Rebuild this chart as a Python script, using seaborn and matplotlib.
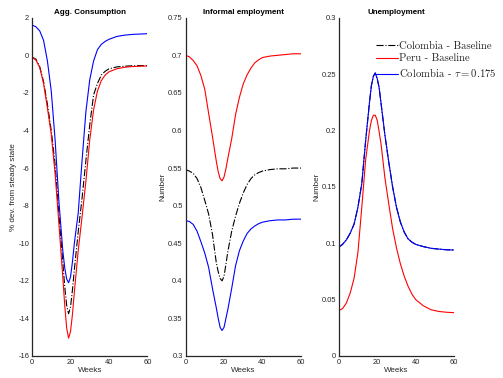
import matplotlib
matplotlib.use("Agg")
import matplotlib.pyplot as plt
import seaborn as sns
import numpy as np

# ---------------- data ----------------
weeks = [0, 2, 4, 6, 8, 10, 12, 14, 16, 17, 18, 19, 20, 21, 22, 24, 26, 28, 30,
         32, 34, 36, 38, 40, 44, 48, 52, 56, 60]

# Agg. Consumption (% dev. from steady state)
cons_col_base = [-0.10, -0.20, -0.60, -1.40, -2.60, -4.00, -5.80, -8.50, -11.0, -12.3, -13.3, -13.75, -13.4,
                 -12.5, -11.4, -9.4, -7.6, -5.6, -3.7, -2.1, -1.5, -1.05, -0.85, -0.72, -0.62, -0.58,
                 -0.56, -0.55, -0.55]
cons_peru_base = [-0.10, -0.25, -0.65, -1.50, -2.80, -4.20, -6.30, -9.00, -11.8, -13.3, -14.5, -15.05, -14.7,
                  -13.8, -12.6, -10.4, -8.6, -6.7, -4.5, -2.9, -1.9, -1.35, -1.05, -0.88, -0.72, -0.64,
                  -0.60, -0.58, -0.57]
cons_col_tau = [1.61, 1.52, 1.30, 0.80, -0.30, -1.90, -4.50, -7.80, -10.4, -11.3, -11.9, -12.1, -11.8,
                -11.0, -10.0, -8.4, -5.6, -3.0, -1.3, -0.3, 0.30, 0.58, 0.74, 0.85, 1.00, 1.07,
                1.11, 1.13, 1.15]

# Informal employment (Number)
inf_col_base = [0.548, 0.546, 0.543, 0.536, 0.524, 0.507, 0.489, 0.462, 0.424, 0.412, 0.403, 0.400, 0.406,
                0.422, 0.439, 0.466, 0.486, 0.503, 0.517, 0.528, 0.536, 0.541, 0.544, 0.546, 0.548, 0.549,
                0.549, 0.550, 0.550]
inf_peru_base = [0.700, 0.698, 0.693, 0.686, 0.673, 0.655, 0.623, 0.592, 0.559, 0.545, 0.536, 0.533, 0.538,
                 0.549, 0.563, 0.589, 0.621, 0.644, 0.662, 0.674, 0.683, 0.690, 0.694, 0.697, 0.699, 0.700,
                 0.701, 0.702, 0.702]
inf_col_tau = [0.480, 0.479, 0.475, 0.466, 0.452, 0.437, 0.418, 0.390, 0.364, 0.350, 0.338, 0.334, 0.338,
               0.350, 0.362, 0.390, 0.420, 0.440, 0.453, 0.463, 0.469, 0.473, 0.476, 0.478, 0.480, 0.481,
               0.481, 0.482, 0.482]

# Unemployment (Number)
unemp_col_base = [0.0964, 0.099, 0.103, 0.109, 0.117, 0.132, 0.153, 0.191, 0.225, 0.240, 0.248, 0.251, 0.246,
                  0.238, 0.224, 0.196, 0.172, 0.150, 0.132, 0.119, 0.110, 0.104, 0.101, 0.099, 0.097,
                  0.0955, 0.0948, 0.0942, 0.094]
unemp_peru_base = [0.0402, 0.042, 0.047, 0.056, 0.069, 0.092, 0.132, 0.174, 0.200, 0.209, 0.2135, 0.2135,
                   0.209, 0.199, 0.188, 0.158, 0.135, 0.113, 0.096, 0.082, 0.071, 0.062, 0.055, 0.050,
                   0.0445, 0.041, 0.0395, 0.0388, 0.0384]
unemp_col_tau = [0.0964, 0.099, 0.103, 0.109, 0.117, 0.132, 0.153, 0.191, 0.225, 0.240, 0.248, 0.251, 0.246,
                 0.238, 0.224, 0.196, 0.172, 0.150, 0.132, 0.119, 0.110, 0.104, 0.101, 0.099, 0.097,
                 0.0955, 0.0948, 0.0942, 0.094]

series_labels = ["Colombia - Baseline", "Peru - Baseline", r"Colombia - $\tau = 0.175$"]
titles = ["Agg. Consumption", "Informal employment", "Unemployment"]
ylabels = ["% dev. from steady state", "Number", "Number"]
xlabel = "Weeks"
xticks = [0, 20, 40, 60]

yticks_cons = [2, 0, -2, -4, -6, -8, -10, -12, -14, -16]
yticklabels_cons = ["2", "0", "-2", "-4", "-6", "-8", "-10", "-12", "-14", "-16"]
yticks_inf = [0.3, 0.35, 0.4, 0.45, 0.5, 0.55, 0.6, 0.65, 0.7, 0.75]
yticklabels_inf = ["0.3", "0.35", "0.4", "0.45", "0.5", "0.55", "0.6", "0.65", "0.7", "0.75"]
yticks_unemp = [0, 0.05, 0.1, 0.15, 0.2, 0.25, 0.3]
yticklabels_unemp = ["0", "0.05", "0.1", "0.15", "0.2", "0.25", "0.3"]

# ---------------- styling ----------------
sns.set_style("white")
plt.rcParams["font.family"] = ["Liberation Sans", "DejaVu Sans"]
plt.rcParams["axes.unicode_minus"] = False
plt.rcParams["mathtext.fontset"] = "cm"

axcol = "#262626"
colors = ["black", "#ff0000", "#0000ff"]
styles = ["-.", "-", "-"]

fig = plt.figure(figsize=(5.03, 3.78), dpi=100)
lefts = [32 / 503, 185.5 / 503, 338.7 / 503]
w = 115.5 / 503
bottom = 1 - 356 / 378
h = (356 - 17.7) / 378

panels = [
    ([cons_col_base, cons_peru_base, cons_col_tau], (-16, 2), yticks_cons, yticklabels_cons),
    ([inf_col_base, inf_peru_base, inf_col_tau], (0.3, 0.75), yticks_inf, yticklabels_inf),
    ([unemp_col_base, unemp_peru_base, unemp_col_tau], (0, 0.3), yticks_unemp, yticklabels_unemp),
]

axes = []
for i, (data, ylim, yt, ytl) in enumerate(panels):
    ax = fig.add_axes([lefts[i], bottom, w, h])
    for vals, c, ls, lab in zip(data, colors, styles, series_labels):
        sns.lineplot(x=weeks, y=vals, ax=ax, color=c, linestyle=ls, linewidth=0.8,
                     label=lab, legend=False)
    ax.set_xlim(0, 60)
    ax.set_ylim(*ylim)
    ax.set_xticks(xticks)
    ax.set_xticklabels([str(t) for t in xticks])
    ax.set_yticks(yt)
    ax.set_yticklabels(ytl)
    for s in ["top", "right"]:
        ax.spines[s].set_visible(False)
    for s in ["left", "bottom"]:
        ax.spines[s].set_color(axcol)
        ax.spines[s].set_linewidth(0.9)
    ax.tick_params(direction="in", length=2.5, width=0.6, colors=axcol,
                   labelsize=5.4, pad=2)
    ax.set_title(titles[i], fontsize=5.8, fontweight="bold", color="black", pad=2.5)
    ax.set_xlabel(xlabel, fontsize=5.8, color=axcol, labelpad=1)
    ax.set_ylabel(ylabels[i], fontsize=5.8, color=axcol, labelpad=1)
    ax.patch.set_alpha(0)
    axes.append(ax)

handles, labels = axes[2].get_legend_handles_labels()
leg = axes[2].legend(handles, labels, loc="upper left", bbox_to_anchor=(0.32, 0.93),
                     frameon=False, handlelength=2.1, handletextpad=0.1,
                     labelspacing=0.28, borderaxespad=0, borderpad=0,
                     prop={"family": "cmr10", "size": 7.7})

fig.savefig("out.png", dpi=100)
